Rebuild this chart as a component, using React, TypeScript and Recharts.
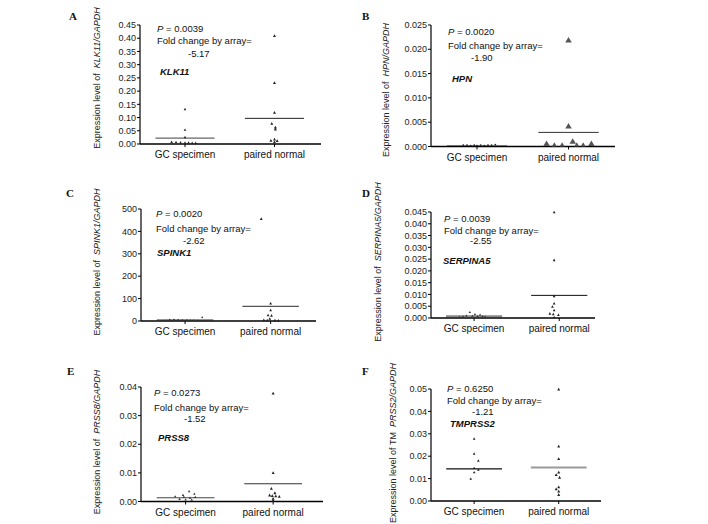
import React from 'react';
import { ComposedChart, Scatter, XAxis, YAxis, ReferenceLine } from 'recharts';

const FONT = '"Liberation Sans", Arial, Helvetica, sans-serif';

// ---------- data ----------
const categories = ['GC specimen', 'paired normal'];

// A: KLK11
const klk11Gc = [0.131, 0.053, 0.025, 0.007, 0.006, 0.005, 0.004, 0.004, 0.003, 0.003];
const klk11GcJitter = [0, 0, 0, -0.15, -0.1, -0.05, 0.0, 0.04, 0.08, 0.12];
const klk11Paired = [0.408, 0.23, 0.118, 0.076, 0.062, 0.055, 0.017, 0.012, 0.011, 0.006];
const klk11PairedJitter = [0, 0, 0, -0.03, 0.01, 0.01, 0, -0.04, 0.03, 0];
const klk11Mean = [0.022, 0.097];

// B: HPN
const hpnGc = [0.0003, 0.0003, 0.0002, 0.0003, 0.0002, 0.0003, 0.0002, 0.0003, 0.0003, 0.0004];
const hpnGcJitter = [-0.15, -0.11, -0.07, -0.03, 0.0, 0.04, 0.08, 0.12, 0.16, 0.2];
const hpnPaired = [0.0218, 0.0041, 0.0005, 0.0001, 0.0001, 0.00095, 0.0001, 0.0001, 0.0005];
const hpnPairedJitter = [0, 0, -0.24, -0.155, -0.07, 0.046, 0.09, 0.16, 0.25];
const hpnMean = [0.0001, 0.0029];

// C: SPINK1
const spink1Gc = [16, 7, 6, 5, 4, 4, 3, 3, 2, 2];
const spink1GcJitter = [0.2, -0.18, -0.13, -0.08, -0.03, 0.02, 0.06, 0.1, 0.14, -0.22];
const spink1Paired = [455, 77, 47, 25, 23, 9, 3, 2, 2, 1];
const spink1PairedJitter = [-0.11, 0, 0, -0.03, 0.01, -0.01, -0.08, -0.04, 0.05, 0.09];
const spink1Mean = [5, 65];

// D: SERPINA5
const serpina5Gc = [0.0024, 0.0015, 0.0013, 0.0009, 0.0008, 0.0007, 0.0006, 0.0005, 0.0004, 0.0003];
const serpina5GcJitter = [-0.05, 0.01, 0.07, -0.09, -0.02, 0.04, 0.1, -0.13, 0.13, -0.17];
const serpina5Paired = [0.0448, 0.0245, 0.0092, 0.0061, 0.0047, 0.0032, 0.0018, 0.0015, 0.0012, 0.0002];
const serpina5PairedJitter = [-0.06, -0.06, -0.06, -0.06, -0.08, -0.06, -0.11, -0.07, -0.01, -0.06];
const serpina5Mean = [0.0007, 0.0096];

// E: PRSS8
const prss8Gc = [0.0035, 0.0026, 0.0022, 0.0017, 0.0016, 0.0015, 0.0012, 0.0008, 0.0006, 0.0005];
const prss8GcJitter = [0.04, 0.1, -0.03, -0.12, -0.02, 0.11, 0.05, -0.07, 0.0, 0.07];
const prss8Paired = [0.0377, 0.0099, 0.0044, 0.0029, 0.0021, 0.0019, 0.0018, 0.0016, 0.0009, 0.0003];
const prss8PairedJitter = [0, 0, -0.02, 0.02, -0.04, -0.01, 0.03, 0.07, 0.0, 0.0];
const prss8Mean = [0.0013, 0.0062];

// F: TMPRSS2
const tmprss2Gc = [0.0277, 0.021, 0.0179, 0.0146, 0.0139, 0.0127, 0.0098];
const tmprss2GcJitter = [0, 0, 0.05, 0, 0.05, 0, -0.04];
const tmprss2Paired = [0.0497, 0.0243, 0.0187, 0.0127, 0.0116, 0.0104, 0.0061, 0.0052, 0.0042, 0.0027];
const tmprss2PairedJitter = [0, 0, 0, 0, -0.03, 0.01, 0, -0.03, 0, 0];
const tmprss2Mean = [0.0143, 0.0149];

// tick labels
const ticksA = [0, 0.05, 0.1, 0.15, 0.2, 0.25, 0.3, 0.35, 0.4, 0.45];
const ticksB = [0, 0.005, 0.01, 0.015, 0.02, 0.025];
const ticksC = [0, 100, 200, 300, 400, 500];
const ticksD = [0, 0.005, 0.01, 0.015, 0.02, 0.025, 0.03, 0.035, 0.04, 0.045];
const ticksE = [0, 0.01, 0.02, 0.03, 0.04];
const ticksF = [0, 0.01, 0.02, 0.03, 0.04, 0.05];

// text
const pValues = ['0.0039', '0.0020', '0.0020', '0.0039', '0.0273', '0.6250'];
const foldChanges = ['-5.17', '-1.90', '-2.62', '-2.55', '-1.52', '-1.21'];
const genes = ['KLK11', 'HPN', 'SPINK1', 'SERPINA5', 'PRSS8', 'TMPRSS2'];
const yLabelPrefix = ['Expression level of', 'Expression level of', 'Expression level of', 'Expression level of', 'Expression level of', 'Expression level of TM'];
const yLabelGene = ['KLK11/GAPDH', 'HPN/GAPDH', 'SPINK1/GAPDH', 'SERPINA5/GAPDH', 'PRSS8/GAPDH', 'PRSS2/GAPDH'];
const letters = ['A', 'B', 'C', 'D', 'E', 'F'];

// ---------- shapes ----------
const tri = (w: number, h: number, fill: string) => (p: any) => {
  const { cx, cy } = p;
  if (cx == null || cy == null) return <g />;
  return (
    <path
      d={`M${cx},${cy - (h * 2) / 3}L${cx - w / 2},${cy + h / 3}L${cx + w / 2},${cy + h / 3}Z`}
      fill={fill}
    />
  );
};
const dot = (r: number, fill: string) => (p: any) => {
  const { cx, cy } = p;
  if (cx == null || cy == null) return <g />;
  return <circle cx={cx} cy={cy} r={r} fill={fill} />;
};

// ---------- layout ----------
type Cfg = {
  gc: number[]; gcJ: number[]; pa: number[]; paJ: number[]; mean: number[];
  ticks: number[]; yMax: number; dec: number;
  plot: { l: number; t: number; r: number; b: number };
  xDomain: [number, number];
  clip: boolean;
  gcShape: any; paShape: any;
  meanColor: string[]; meanWidth: number[];
  letterPos: [number, number];
  txt: { p: [number, number]; fold: [number, number]; val: [number, number]; gene: [number, number] };
  yLab: [number, number];
};

const panels: Cfg[] = [
  {
    gc: klk11Gc, gcJ: klk11GcJitter, pa: klk11Paired, paJ: klk11PairedJitter, mean: klk11Mean,
    ticks: ticksA, yMax: 0.45, dec: 2,
    plot: { l: 140, t: 25, r: 321, b: 144 }, xDomain: [0.497, 2.52], clip: false,
    gcShape: tri(2.6, 2.4, '#222'), paShape: tri(3, 2.8, '#222'),
    meanColor: ['#666', '#222'], meanWidth: [1.2, 1],
    letterPos: [69, 20],
    txt: { p: [157, 32], fold: [157, 44], val: [188, 57], gene: [160, 75] },
    yLab: [99.5, 78],
  },
  {
    gc: hpnGc, gcJ: hpnGcJitter, pa: hpnPaired, paJ: hpnPairedJitter, mean: hpnMean,
    ticks: ticksB, yMax: 0.025, dec: 3,
    plot: { l: 431, t: 25, r: 615, b: 146.5 }, xDomain: [0.497, 2.508], clip: true,
    gcShape: dot(0.9, '#222'), paShape: tri(6.5, 5.5, '#555'),
    meanColor: ['#333', '#333'], meanWidth: [1, 1],
    letterPos: [362, 20],
    txt: { p: [448, 35], fold: [448, 49], val: [471, 61], gene: [452, 82] },
    yLab: [389, 90],
  },
  {
    gc: spink1Gc, gcJ: spink1GcJitter, pa: spink1Paired, paJ: spink1PairedJitter, mean: spink1Mean,
    ticks: ticksC, yMax: 500, dec: 0,
    plot: { l: 141, t: 209, r: 316, b: 321 }, xDomain: [0.485, 2.53], clip: false,
    gcShape: dot(0.8, '#333'), paShape: tri(2.8, 2.6, '#222'),
    meanColor: ['#555', '#555'], meanWidth: [1, 1.2],
    letterPos: [66, 197],
    txt: { p: [156, 217], fold: [156, 232], val: [183, 244], gene: [157, 256] },
    yLab: [99.5, 262],
  },
  {
    gc: serpina5Gc, gcJ: serpina5GcJitter, pa: serpina5Paired, paJ: serpina5PairedJitter, mean: serpina5Mean,
    ticks: ticksD, yMax: 0.045, dec: 3,
    plot: { l: 431, t: 212, r: 595, b: 318 }, xDomain: [0.494, 2.42], clip: false,
    gcShape: tri(2.4, 2.2, '#333'), paShape: tri(2.8, 2.6, '#222'),
    meanColor: ['#888', '#111'], meanWidth: [2, 1],
    letterPos: [362, 197],
    txt: { p: [444, 222], fold: [444, 234], val: [470, 244], gene: [443, 264] },
    yLab: [381, 262],
  },
  {
    gc: prss8Gc, gcJ: prss8GcJitter, pa: prss8Paired, paJ: prss8PairedJitter, mean: prss8Mean,
    ticks: ticksE, yMax: 0.04, dec: 2,
    plot: { l: 141, t: 387, r: 323, b: 501.5 }, xDomain: [0.49, 2.57], clip: false,
    gcShape: tri(2.4, 2.2, '#333'), paShape: tri(3, 2.8, '#222'),
    meanColor: ['#444', '#333'], meanWidth: [1, 1],
    letterPos: [67, 375],
    txt: { p: [154, 396], fold: [154, 411], val: [184, 422], gene: [158, 441] },
    yLab: [99.5, 442],
  },
  {
    gc: tmprss2Gc, gcJ: tmprss2GcJitter, pa: tmprss2Paired, paJ: tmprss2PairedJitter, mean: tmprss2Mean,
    ticks: ticksF, yMax: 0.05, dec: 2,
    plot: { l: 431, t: 389, r: 601, b: 501 }, xDomain: [0.49, 2.5], clip: false,
    gcShape: tri(2.6, 2.4, '#222'), paShape: tri(3, 2.8, '#222'),
    meanColor: ['#111', '#999'], meanWidth: [1.2, 2],
    letterPos: [362, 375],
    txt: { p: [447, 392], fold: [447, 404], val: [472, 415], gene: [450, 427] },
    yLab: [396, 443],
  },
];

const HALF = 0.33;
const TOP = 10;
const XH = 30;
const YW = 50;
const RIGHT = 10;

function PanelChart({ cfg }: { cfg: Cfg }) {
  const { l, t, r, b } = cfg.plot;
  const W = r - l + YW + RIGHT;
  const H = b - t + TOP + XH;
  const gcData = cfg.gc.map((v, i) => ({ x: 1 + cfg.gcJ[i], y: v }));
  const paData = cfg.pa.map((v, i) => ({ x: 2 + cfg.paJ[i], y: v }));
  return (
    <div style={{ position: 'absolute', left: l - YW, top: t - TOP, width: W, height: H }}>
      <ComposedChart width={W} height={H} margin={{ top: TOP, right: RIGHT, bottom: 0, left: 0 }}>
        <XAxis
          type="number"
          dataKey="x"
          domain={cfg.xDomain}
          ticks={[1, 2]}
          interval={0}
          tickFormatter={(v: number) => categories[Math.round(v) - 1]}
          height={XH}
          tickSize={3}
          tickMargin={4}
          axisLine={{ stroke: '#000', strokeWidth: 1.6 }}
          tickLine={{ stroke: '#000' }}
          tick={{ fontSize: 10, fill: '#111', fontFamily: FONT }}
        />
        <YAxis
          type="number"
          dataKey="y"
          domain={[0, cfg.yMax]}
          ticks={cfg.ticks}
          interval={0}
          tickFormatter={(v: number) => v.toFixed(cfg.dec)}
          width={YW}
          tickSize={3}
          tickMargin={1}
          allowDataOverflow={cfg.clip}
          axisLine={{ stroke: '#000', strokeWidth: 1.2 }}
          tickLine={{ stroke: '#000' }}
          tick={{ fontSize: 9, fill: '#222', fontFamily: FONT }}
        />
        <ReferenceLine
          segment={[{ x: 1 - HALF, y: cfg.mean[0] }, { x: 1 + HALF, y: cfg.mean[0] }]}
          stroke={cfg.meanColor[0]}
          strokeWidth={cfg.meanWidth[0]}
        />
        <ReferenceLine
          segment={[{ x: 2 - HALF, y: cfg.mean[1] }, { x: 2 + HALF, y: cfg.mean[1] }]}
          stroke={cfg.meanColor[1]}
          strokeWidth={cfg.meanWidth[1]}
        />
        <Scatter data={gcData} shape={cfg.gcShape} isAnimationActive={false} />
        <Scatter data={paData} shape={cfg.paShape} isAnimationActive={false} />
      </ComposedChart>
    </div>
  );
}

export default function App() {
  return (
    <div style={{ position: 'absolute', left: 0, top: 0, width: 708, height: 524, background: '#fff', fontFamily: FONT }}>
      {panels.map((cfg, i) => (
        <PanelChart key={i} cfg={cfg} />
      ))}
      <svg width={708} height={524} style={{ position: 'absolute', left: 0, top: 0, pointerEvents: 'none' }}>
        {panels.map((cfg, i) => (
          <g key={i} fontFamily={FONT} fill="#111">
            <text x={cfg.letterPos[0]} y={cfg.letterPos[1]} fontFamily='"Liberation Serif", "Times New Roman", serif' fontWeight="bold" fontSize={11}>
              {letters[i]}
            </text>
            <text x={cfg.txt.p[0]} y={cfg.txt.p[1]} fontSize={9.5}>
              <tspan fontStyle="italic">P</tspan>
              <tspan> = {pValues[i]}</tspan>
            </text>
            <text x={cfg.txt.fold[0]} y={cfg.txt.fold[1]} fontSize={9.5}>Fold change by array=</text>
            <text x={cfg.txt.val[0]} y={cfg.txt.val[1]} fontSize={9.5}>{foldChanges[i]}</text>
            <text x={cfg.txt.gene[0]} y={cfg.txt.gene[1]} fontSize={9.5} fontStyle="italic" fontWeight="bold">{genes[i]}</text>
            <text
              x={cfg.yLab[0]}
              y={cfg.yLab[1]}
              transform={`rotate(-90 ${cfg.yLab[0]} ${cfg.yLab[1]})`}
              textAnchor="middle"
              fontSize={9}
              fill="#222"
            >
              <tspan>{yLabelPrefix[i]}</tspan>
              <tspan dx={5} fontStyle="italic">{yLabelGene[i]}</tspan>
            </text>
          </g>
        ))}
      </svg>
    </div>
  );
}
